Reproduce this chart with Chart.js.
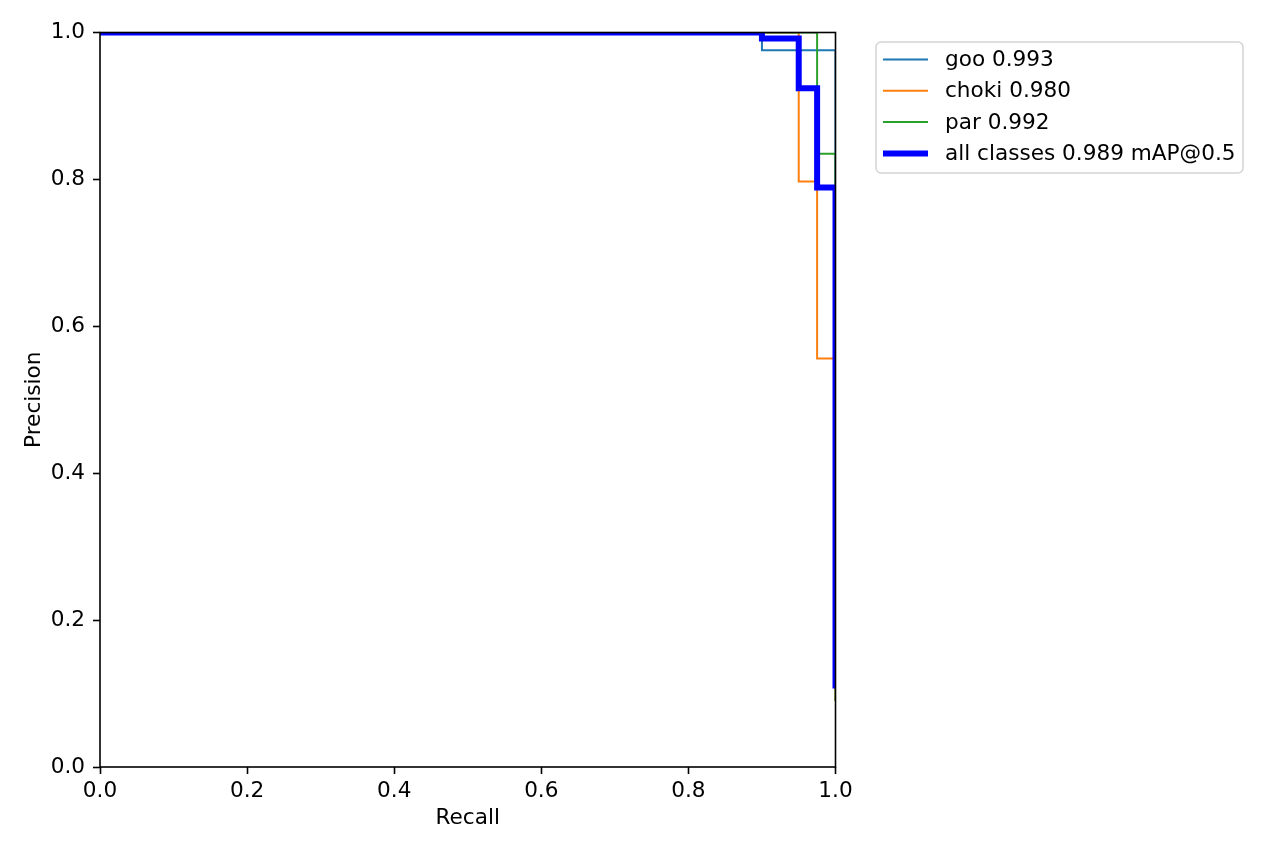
<!DOCTYPE html>
<html>
<head>
<meta charset="utf-8">
<title>PR curve</title>
<script src="https://cdn.jsdelivr.net/npm/chart.js@4.4.1/dist/chart.umd.min.js"></script>
<style>
  html, body { margin: 0; padding: 0; background: #fff; }
  #wrap { width: 1280px; height: 853px; position: relative; }
</style>
</head>
<body>
<div id="wrap"><canvas id="prChart"></canvas></div>
<script>
// ===== data =====
const gooRecall = [0, 0.9, 1.0];
const gooPrecision = [1.0, 0.976, 0.14];

const chokiRecall = [0, 0.95, 0.975, 1.0];
const chokiPrecision = [1.0, 0.797, 0.556, 0.09];

const parRecall = [0, 0.975, 1.0];
const parPrecision = [1.0, 0.835, 0.09];

const allRecall = [0, 0.9, 0.95, 0.975, 1.0];
const allPrecision = [1.0, 0.992, 0.924, 0.789, 0.107];

const seriesLabels = ['goo 0.993', 'choki 0.980', 'par 0.992', 'all classes 0.989 mAP@0.5'];
const axisTicks = [0, 0.2, 0.4, 0.6, 0.8, 1.0];

// zip recall/precision into points
function toPoints(rec, prec) {
    return rec.map((r, i) => ({ x: r, y: prec[i] }));
}

const FONT = { family: 'DejaVu Sans', size: 21.6 };

// frame on all four sides, drawn over the lines like matplotlib spines
const framePlugin = {
    id: 'frame',
    afterDatasetsDraw(chart) {
        const { ctx, chartArea: a } = chart;
        ctx.save();
        ctx.strokeStyle = '#000';
        ctx.lineWidth = 1.6;
        ctx.strokeRect(a.left, a.top, a.right - a.left, a.bottom - a.top);
        ctx.restore();
    }
};

// legend box in the upper left just outside the axes
const legendPlugin = {
    id: 'boxLegend',
    afterDraw(chart) {
        const ctx = chart.ctx;
        const bx = 876, by = 42, bw = 367, bh = 131, r = 5;
        ctx.save();
        ctx.beginPath();
        ctx.roundRect(bx, by, bw, bh, r);
        ctx.fillStyle = 'rgba(255,255,255,0.8)';
        ctx.fill();
        ctx.strokeStyle = '#d4d4d4';
        ctx.lineWidth = 1.5;
        ctx.stroke();

        ctx.font = FONT.size + 'px ' + FONT.family;
        ctx.textBaseline = 'middle';
        ctx.textAlign = 'left';
        chart.data.datasets.forEach((ds, i) => {
            const y = 59.5 + i * 31.3;
            ctx.beginPath();
            ctx.moveTo(883, y);
            ctx.lineTo(928, y);
            ctx.strokeStyle = ds.borderColor;
            ctx.lineWidth = ds.borderWidth;
            ctx.lineCap = 'butt';
            ctx.stroke();
            ctx.fillStyle = '#000';
            ctx.fillText(ds.label, 945, y + 1);
        });
        ctx.restore();
    }
};

const dataPR = {
    datasets: [
        {
            label: seriesLabels[0],
            data: toPoints(gooRecall, gooPrecision),
            borderColor: '#1f77b4',
            borderWidth: 2,
            order: 3
        },
        {
            label: seriesLabels[1],
            data: toPoints(chokiRecall, chokiPrecision),
            borderColor: '#ff7f0e',
            borderWidth: 2,
            order: 2
        },
        {
            label: seriesLabels[2],
            data: toPoints(parRecall, parPrecision),
            borderColor: '#2ca02c',
            borderWidth: 2,
            order: 1
        },
        {
            label: seriesLabels[3],
            data: toPoints(allRecall, allPrecision),
            borderColor: '#0000ff',
            borderWidth: 6,
            order: 0
        }
    ]
};

const axisGrid = {
    display: true,
    drawOnChartArea: false,
    drawTicks: true,
    tickLength: 7,
    tickWidth: 1.6,
    tickColor: '#000'
};

const configPR = {
    type: 'line',
    data: dataPR,
    options: {
        responsive: true,
        maintainAspectRatio: false,
        animation: false,
        layout: { padding: { top: 32.5, right: 444.5, left: 0, bottom: 0 } },
        elements: {
            point: { radius: 0 },
            line: { stepped: true, tension: 0, fill: false, borderCapStyle: 'butt' }
        },
        datasets: { line: { clip: 0 } },
        plugins: {
            legend: { display: false },
            tooltip: { enabled: false }
        },
        scales: {
            x: {
                type: 'linear',
                min: 0,
                max: 1,
                afterFit(scale) { scale.height = 86; },
                afterBuildTicks(scale) { scale.ticks = axisTicks.map(v => ({ value: v })); },
                grid: axisGrid,
                border: { display: false },
                ticks: {
                    color: '#000',
                    font: FONT,
                    padding: 4,
                    maxRotation: 0,
                    callback: v => v.toFixed(1)
                },
                title: {
                    display: true,
                    text: 'Recall',
                    color: '#000',
                    font: FONT,
                    padding: { top: 0, bottom: 22 }
                }
            },
            y: {
                type: 'linear',
                min: 0,
                max: 1,
                afterFit(scale) { scale.width = 100; },
                afterBuildTicks(scale) { scale.ticks = axisTicks.map(v => ({ value: v })); },
                grid: axisGrid,
                border: { display: false },
                ticks: {
                    color: '#000',
                    font: FONT,
                    padding: 8,
                    callback: v => v.toFixed(1)
                },
                title: {
                    display: true,
                    text: 'Precision',
                    color: '#000',
                    font: FONT,
                    padding: { top: 21, bottom: 0 }
                }
            }
        }
    },
    plugins: [framePlugin, legendPlugin]
};

const prChart = new Chart(document.getElementById('prChart'), configPR);
</script>
</body>
</html>
